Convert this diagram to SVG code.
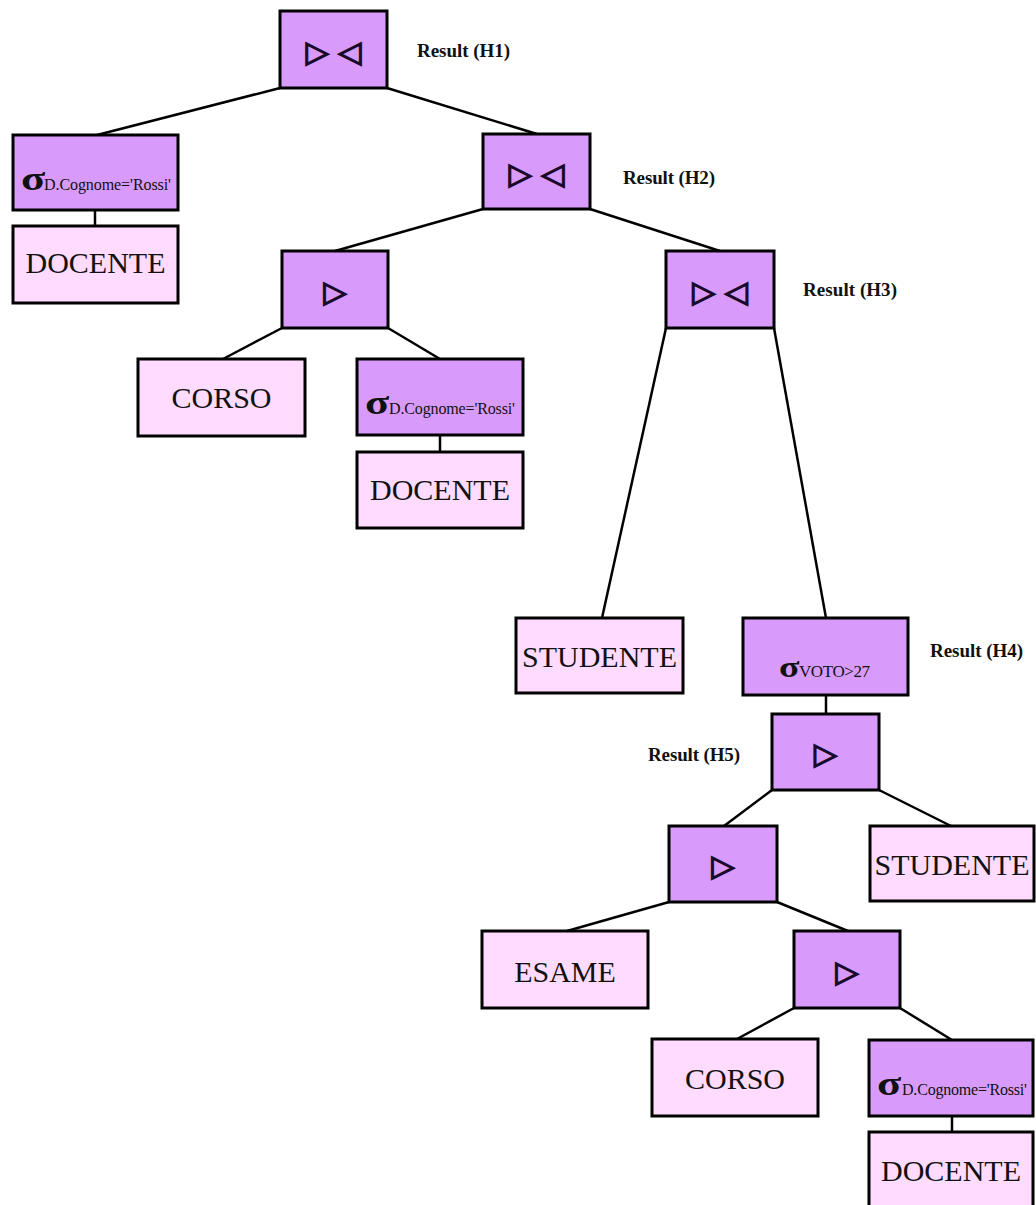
<svg xmlns="http://www.w3.org/2000/svg" width="1036" height="1205" viewBox="0 0 1036 1205">
<style>
.op{fill:#d99bfb;stroke:#000;stroke-width:3}
.rel{fill:#ffdbff;stroke:#000;stroke-width:3}
.lbl{font-family:"Liberation Serif",serif;font-size:30px;fill:#111;text-anchor:middle}
.sym{font-family:"DejaVu Sans",sans-serif;font-size:30px;fill:#1a0a2a;stroke:#1a0a2a;stroke-width:1.4;text-anchor:middle}
.sig{font-family:"Liberation Serif",serif;font-size:33px;font-weight:bold;fill:#111}
.sub{font-family:"Liberation Serif",serif;font-size:16px;fill:#111}
.res{font-family:"Liberation Serif",serif;font-size:19px;font-weight:bold;fill:#111}
.con line{stroke:#000;stroke-width:2.5}
</style>
<rect width="1036" height="1205" fill="#fff"/>
<g id="connectors" class="con">
<line x1="280" y1="88" x2="97" y2="135"/>
<line x1="387" y1="88" x2="537" y2="134"/>
<line x1="95" y1="210" x2="95" y2="226"/>
<line x1="483" y1="209" x2="335" y2="251"/>
<line x1="590" y1="209" x2="720" y2="251"/>
<line x1="282" y1="328" x2="223" y2="359"/>
<line x1="388" y1="328" x2="440" y2="359"/>
<line x1="440" y1="435" x2="440" y2="452"/>
<line x1="666" y1="328" x2="602" y2="618"/>
<line x1="774" y1="328" x2="826" y2="618"/>
<line x1="826" y1="695" x2="826" y2="714"/>
<line x1="772" y1="790" x2="724" y2="826"/>
<line x1="879" y1="790" x2="951" y2="826"/>
<line x1="669" y1="902" x2="567" y2="931"/>
<line x1="777" y1="902" x2="848" y2="931"/>
<line x1="794" y1="1008" x2="737" y2="1039"/>
<line x1="900" y1="1008" x2="952" y2="1040"/>
<line x1="952" y1="1116" x2="952" y2="1132"/>
</g>
<g id="join1"><rect class="op" x="280" y="11" width="107" height="77"/><text class="sym" x="333.5" y="62">▷ ◁</text></g>
<text class="res" x="417" y="57" textLength="93">Result (H1)</text>
<g id="sel1"><rect class="op" x="13" y="135" width="165" height="75"/><text class="sig" transform="translate(21,190) scale(1.35,1)">σ</text><text class="sub" x="44" y="190" textLength="127">D.Cognome='Rossi'</text></g>
<g id="docente1"><rect class="rel" x="13" y="226" width="165" height="77"/><text class="lbl" x="95.5" y="273">DOCENTE</text></g>
<g id="join2"><rect class="op" x="483" y="134" width="107" height="75"/><text class="sym" x="536.5" y="184">▷ ◁</text></g>
<text class="res" x="623" y="184" textLength="92">Result (H2)</text>
<g id="semi1"><rect class="op" x="282" y="251" width="106" height="77"/><text class="sym" x="335" y="302">▷</text></g>
<g id="corso1"><rect class="rel" x="138" y="359" width="167" height="77"/><text class="lbl" x="221.5" y="408">CORSO</text></g>
<g id="sel2"><rect class="op" x="357" y="359" width="166" height="76"/><text class="sig" transform="translate(365,414) scale(1.35,1)">σ</text><text class="sub" x="389" y="414" textLength="126">D.Cognome='Rossi'</text></g>
<g id="docente2"><rect class="rel" x="357" y="452" width="166" height="76"/><text class="lbl" x="440" y="500">DOCENTE</text></g>
<g id="join3"><rect class="op" x="666" y="251" width="108" height="77"/><text class="sym" x="720" y="302">▷ ◁</text></g>
<text class="res" x="803" y="296" textLength="94">Result (H3)</text>
<g id="studente1"><rect class="rel" x="516" y="618" width="167" height="75"/><text class="lbl" x="599.5" y="667">STUDENTE</text></g>
<g id="selvoto"><rect class="op" x="743" y="618" width="165" height="77"/><text class="sig" transform="translate(779,677) scale(1.3,1)" style="font-size:29px">σ</text><text class="sub" x="799" y="677" style="font-size:17px" textLength="71">VOTO&gt;27</text></g>
<text class="res" x="930" y="657" textLength="93">Result (H4)</text>
<g id="semi2"><rect class="op" x="772" y="714" width="107" height="76"/><text class="sym" x="825.5" y="764">▷</text></g>
<text class="res" x="648" y="761" textLength="92">Result (H5)</text>
<g id="semi3"><rect class="op" x="669" y="826" width="108" height="76"/><text class="sym" x="723" y="876">▷</text></g>
<g id="studente2"><rect class="rel" x="870" y="826" width="164" height="75"/><text class="lbl" x="952" y="875">STUDENTE</text></g>
<g id="esame"><rect class="rel" x="482" y="931" width="166" height="77"/><text class="lbl" x="565" y="982">ESAME</text></g>
<g id="semi4"><rect class="op" x="794" y="931" width="106" height="77"/><text class="sym" x="847" y="982">▷</text></g>
<g id="corso2"><rect class="rel" x="652" y="1039" width="166" height="77"/><text class="lbl" x="735" y="1089">CORSO</text></g>
<g id="sel3"><rect class="op" x="869" y="1040" width="164" height="76"/><text class="sig" transform="translate(877,1095) scale(1.35,1)">σ</text><text class="sub" x="902" y="1095" textLength="125">D.Cognome='Rossi'</text></g>
<g id="docente3"><rect class="rel" x="869" y="1132" width="164" height="80"/><text class="lbl" x="951" y="1181">DOCENTE</text></g>
</svg>
